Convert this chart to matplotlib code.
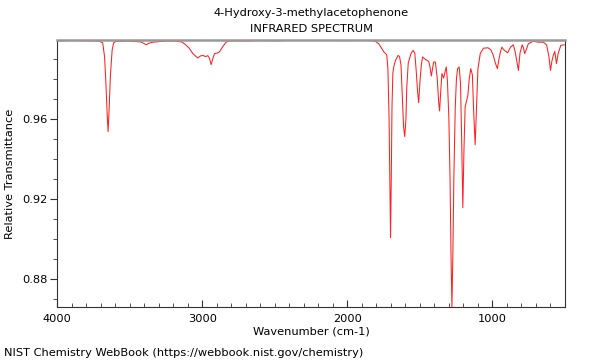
import matplotlib
matplotlib.use("Agg")
import matplotlib.pyplot as plt
from matplotlib.ticker import MultipleLocator

title_line1 = "4-Hydroxy-3-methylacetophenone"
title_line2 = "INFRARED SPECTRUM"
x_label = "Wavenumber (cm-1)"
y_label = "Relative Transmittance"
footer = "NIST Chemistry WebBook (https://webbook.nist.gov/chemistry)"

wavenumber = [
    4000, 3900, 3800, 3720, 3705, 3685, 3672, 3662, 3654, 3648, 3641, 3632, 3620, 3610, 3595,
    3500, 3420, 3395, 3384, 3370, 3340, 3250, 3180, 3140, 3120, 3090, 3064, 3045, 3030, 3012,
    2996, 2975, 2961, 2950, 2938, 2925, 2915, 2895, 2881, 2860, 2835, 2812, 2700, 2600, 2500,
    2400, 2300, 2200, 2100, 2000, 1900, 1830, 1805, 1783, 1760, 1748, 1737, 1728, 1720, 1712,
    1707, 1702, 1697, 1692, 1686, 1680, 1668, 1650, 1640, 1630, 1620, 1612, 1604, 1596, 1590,
    1580, 1561, 1547, 1535, 1525, 1516, 1508, 1500, 1490, 1481, 1462, 1439, 1430, 1421, 1413,
    1405, 1393, 1380, 1370, 1364, 1356, 1348, 1336, 1327, 1318, 1310, 1300, 1292, 1285, 1279,
    1272, 1266, 1256, 1248, 1240, 1229, 1220, 1212, 1204, 1196, 1188, 1169, 1160, 1149, 1138,
    1130, 1119, 1110, 1100, 1084, 1062, 1030, 1010, 995, 980, 966, 955, 945, 935, 920,
    895, 875, 856, 843, 830, 821, 810, 795, 786, 778, 765, 753, 719, 684, 650,
    627, 611, 600, 590, 581, 570, 559, 547, 529, 505,
]
transmittance = [
    0.9990, 0.9992, 0.9991, 0.9990, 0.9988, 0.9980, 0.9910, 0.9760, 0.9620, 0.9537, 0.9645, 0.9819, 0.9945, 0.9980, 0.9988,
    0.9990, 0.9985, 0.9975, 0.9971, 0.9978, 0.9984, 0.9990, 0.9989, 0.9985, 0.9975, 0.9955, 0.9927, 0.9915, 0.9905, 0.9915,
    0.9918, 0.9912, 0.9917, 0.9905, 0.9872, 0.9905, 0.9927, 0.9930, 0.9935, 0.9960, 0.9984, 0.9991, 0.9990, 0.9992, 0.9991,
    0.9993, 0.9994, 0.9994, 0.9993, 0.9992, 0.9994, 0.9992, 0.9988, 0.9976, 0.9950, 0.9935, 0.9928, 0.9920, 0.9850, 0.9600,
    0.9300, 0.9007, 0.9300, 0.9660, 0.9830, 0.9860, 0.9893, 0.9918, 0.9912, 0.9870, 0.9700, 0.9560, 0.9512, 0.9600, 0.9760,
    0.9880, 0.9927, 0.9943, 0.9930, 0.9840, 0.9740, 0.9681, 0.9780, 0.9870, 0.9910, 0.9898, 0.9888, 0.9860, 0.9815, 0.9850,
    0.9885, 0.9885, 0.9800, 0.9680, 0.9640, 0.9740, 0.9827, 0.9805, 0.9835, 0.9860, 0.9790, 0.9600, 0.9300, 0.8900, 0.8660,
    0.8950, 0.9300, 0.9660, 0.9800, 0.9852, 0.9860, 0.9780, 0.9500, 0.9156, 0.9450, 0.9661, 0.9719, 0.9800, 0.9852, 0.9820,
    0.9650, 0.9471, 0.9650, 0.9850, 0.9927, 0.9954, 0.9956, 0.9945, 0.9920, 0.9880, 0.9852, 0.9900, 0.9935, 0.9959, 0.9945,
    0.9931, 0.9960, 0.9971, 0.9935, 0.9880, 0.9843, 0.9930, 0.9971, 0.9955, 0.9927, 0.9950, 0.9976, 0.9989, 0.9984, 0.9984,
    0.9971, 0.9913, 0.9843, 0.9890, 0.9918, 0.9938, 0.9877, 0.9927, 0.9968, 0.9971,
]

x_range = (4000, 500)
y_range = (min(transmittance), 0.9995)
y_major_step = 0.04
y_minor_step = 0.01
x_major_step = 1000
x_minor_step = 100

plt.rcParams['font.family'] = ['DejaVu Sans']
fig = plt.figure(figsize=(6, 3.6), dpi=100)
ax = fig.add_axes([57/600, 1 - 307/360, (565-57)/600, (307-40)/360])

ax.plot(wavenumber, transmittance, color='#ff2020', lw=0.75)
ax.set_xlim(*x_range)
ax.set_ylim(*y_range)

ax.xaxis.set_major_locator(MultipleLocator(x_major_step))
ax.xaxis.set_minor_locator(MultipleLocator(x_minor_step))
ax.yaxis.set_major_locator(MultipleLocator(y_major_step))
ax.yaxis.set_minor_locator(MultipleLocator(y_minor_step))
ax.yaxis.set_major_formatter(plt.FuncFormatter(lambda v, p: f"{v:.2f}"))

fs = 8.2
ax.tick_params(axis='x', which='major', direction='in', length=5, width=0.8, labelsize=fs, pad=5, color='#333333')
ax.tick_params(axis='x', which='minor', direction='in', length=3, width=0.6, color='#333333')
ax.tick_params(axis='y', which='major', direction='out', length=5, width=0.8, labelsize=fs, pad=2, color='#333333')
ax.tick_params(axis='y', which='minor', direction='out', length=3, width=0.6, color='#333333')

for side in ['left', 'bottom', 'right']:
    ax.spines[side].set_color('#333333')
    ax.spines[side].set_linewidth(0.8)
ax.spines['top'].set_color('#999999')
ax.spines['top'].set_linewidth(1.8)

ax.set_xlabel(x_label, fontsize=fs, labelpad=2)
ax.set_ylabel(y_label, fontsize=fs, labelpad=5)

fig.text(311/600, 1 - 13/360, title_line1, ha='center', va='center', fontsize=fs)
fig.text(311/600, 1 - 29/360, title_line2, ha='center', va='center', fontsize=fs)
fig.text(4/600, 1 - 353/360, footer, ha='left', va='center', fontsize=fs)

fig.savefig("out.png", dpi=100)
